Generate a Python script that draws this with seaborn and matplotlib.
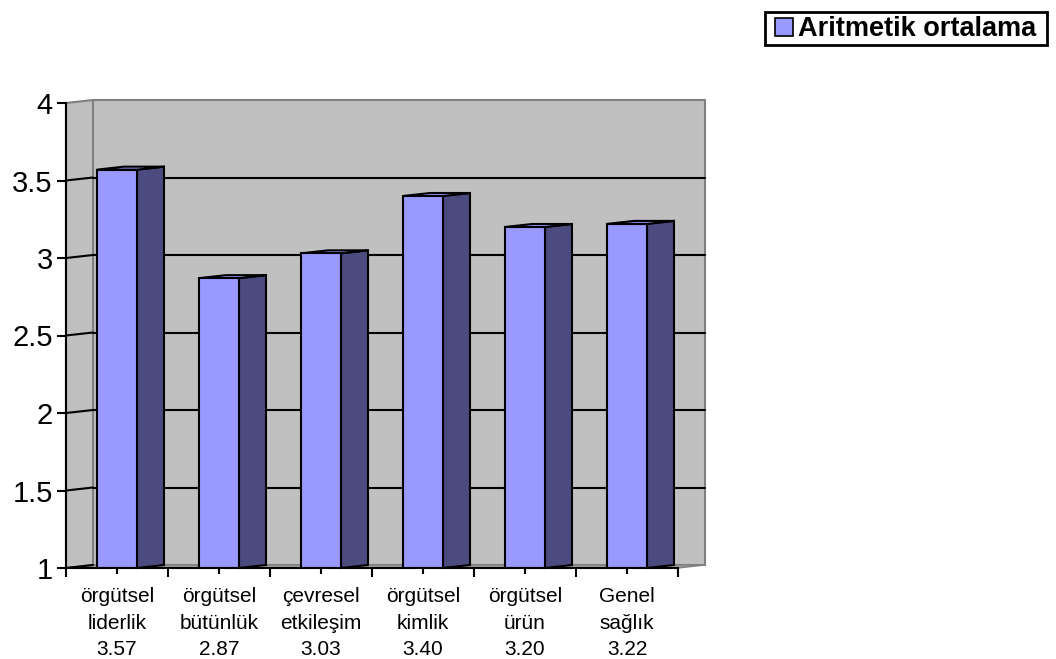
import matplotlib
matplotlib.use("Agg")
import matplotlib.pyplot as plt
from matplotlib.patches import Polygon, Patch, Rectangle
import seaborn as sns
import pandas as pd

# --- data -------------------------------------------------------------
categories = ["örgütsel\nliderlik", "örgütsel\nbütünlük", "çevresel\netkileşim",
              "örgütsel\nkimlik", "örgütsel\nürün", "Genel\nsağlık"]
means = [3.57, 2.87, 3.03, 3.40, 3.20, 3.22]
y_ticks = [1, 1.5, 2, 2.5, 3, 3.5, 4]
y_tick_labels = ["1", "1.5", "2", "2.5", "3", "3.5", "4"]
series_name = "Aritmetik ortalama"

# --- style ------------------------------------------------------------
FRONT = "#9999FF"
SIDE = "#4B4B80"
WALL = "#C0C0C0"
WALL_EDGE = "#808080"
DEPTH_X_PX, DEPTH_Y_PX = 27, 3   # 3-D depth offset in pixels

sns.set_theme(style="white")
plt.rcParams["font.family"] = ["Liberation Sans", "DejaVu Sans"]

W, H = 1056, 659
fig = plt.figure(figsize=(W / 100, H / 100), dpi=100)
ax_left, ax_right, ax_top, ax_bottom = 66, 678, 103, 568
ax = fig.add_axes([ax_left / W, (H - ax_bottom) / H,
                   (ax_right - ax_left) / W, (ax_bottom - ax_top) / H])

df = pd.DataFrame({"kategori": categories, "ortalama": means})
sns.barplot(data=df, x="kategori", y="ortalama", color=FRONT, saturation=1,
            width=0.392, edgecolor="black", linewidth=1.5, ax=ax)

n = len(categories)
x0, x1 = -0.5, n - 0.5
y0, y1 = y_ticks[0], y_ticks[-1]
ax.set_xlim(x0, x1)
ax.set_ylim(y0, y1)

# depth offset expressed in data units
dx = DEPTH_X_PX * (x1 - x0) / (ax_right - ax_left)
dy = DEPTH_Y_PX * (y1 - y0) / (ax_bottom - ax_top)

# back wall, side wall and floor
ax.add_patch(Polygon([(x0 + dx, y0 + dy), (x1 + dx, y0 + dy), (x1 + dx, y1 + dy), (x0 + dx, y1 + dy)],
                     closed=True, facecolor=WALL, edgecolor=WALL_EDGE, linewidth=1.5,
                     clip_on=False, zorder=0))
ax.add_patch(Polygon([(x0, y0), (x0 + dx, y0 + dy), (x0 + dx, y1 + dy), (x0, y1)],
                     closed=True, facecolor=WALL, edgecolor=WALL_EDGE, linewidth=1.5,
                     clip_on=False, zorder=0))
ax.add_patch(Polygon([(x0, y0), (x1, y0), (x1 + dx, y0 + dy), (x0 + dx, y0 + dy)],
                     closed=True, facecolor="#A0A0A0", edgecolor=WALL_EDGE, linewidth=1.0,
                     clip_on=False, zorder=0.5))

# gridlines on the back wall and the side wall
for yv in y_ticks[1:-1]:
    ax.plot([x0 + dx, x1 + dx], [yv + dy, yv + dy], color="black", lw=1.5,
            zorder=1, clip_on=False)
for yv in y_ticks[:-1]:
    ax.plot([x0, x0 + dx], [yv, yv + dy], color="black", lw=1.5, zorder=1, clip_on=False)

# side and top faces of every bar
for bar in list(ax.patches):
    if not hasattr(bar, "get_width"):
        continue
    bx, bw, bh = bar.get_x(), bar.get_width(), bar.get_height()
    if bh <= y0:
        continue
    bar.set_zorder(5)
    right = bx + bw
    ax.add_patch(Polygon([(right, y0), (right + dx, y0 + dy), (right + dx, bh + dy), (right, bh)],
                         closed=True, facecolor=SIDE, edgecolor="black", linewidth=1.5,
                         zorder=4, clip_on=False))
    ax.add_patch(Polygon([(bx, bh), (right, bh), (right + dx, bh + dy), (bx + dx, bh + dy)],
                         closed=True, facecolor=FRONT, edgecolor="black", linewidth=1.5,
                         zorder=4, clip_on=False))

# axes, ticks and labels
for side in ("top", "right"):
    ax.spines[side].set_visible(False)
for side in ("left", "bottom"):
    ax.spines[side].set_color("black")
    ax.spines[side].set_linewidth(1.5)
    ax.spines[side].set_zorder(6)

ax.set_yticks(y_ticks, y_tick_labels)
ax.set_xticks([x0 + i for i in range(n + 1)], [""] * (n + 1))
ax.set_xticks(range(n), [f"{c}\n{v:.2f}" for c, v in zip(categories, means)], minor=True)
ax.tick_params(axis="y", which="major", left=True, length=6.5, width=1.5, pad=3,
               labelsize=21, color="black", labelcolor="black")
ax.tick_params(axis="x", which="major", bottom=True, length=6.5, width=1.5, color="black")
ax.tick_params(axis="x", which="minor", bottom=True, length=4.5, width=1.5, pad=9.5,
               labelsize=15, color="black", labelcolor="black")
for lbl in ax.get_xticklabels(minor=True):
    lbl.set_linespacing(1.5)
ax.set_xlabel("")
ax.set_ylabel("")
ax.patch.set_visible(False)

# legend: framed box with a square swatch and bold series name
fig.add_artist(Rectangle((765 / W, 1 - 45 / H), (1047 - 765) / W, 33 / H,
                         transform=fig.transFigure, facecolor="white",
                         edgecolor="black", linewidth=2, zorder=2))
leg = fig.legend(handles=[Patch(facecolor=FRONT, edgecolor="black", linewidth=1.2, label=series_name)],
                 loc="center left", bbox_to_anchor=(775 / W, 1 - 29.5 / H),
                 frameon=False, prop={"weight": "bold", "size": 19.5},
                 handlelength=0.66, handleheight=0.66, handletextpad=0.18,
                 borderpad=0, borderaxespad=0)
leg.set_zorder(3)
for t in leg.get_texts():
    t.set_color("black")

fig.savefig("out.png", dpi=100, facecolor="white")
